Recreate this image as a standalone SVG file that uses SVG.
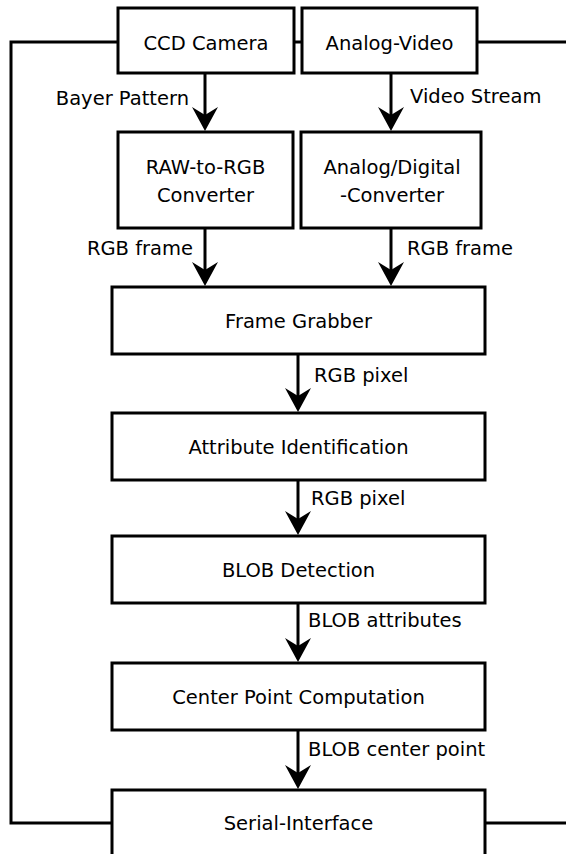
<svg xmlns="http://www.w3.org/2000/svg" width="566" height="854" viewBox="0 0 566 854">
<style>
.box{fill:#fff;stroke:#000;stroke-width:3}
.ln{fill:none;stroke:#000;stroke-width:3}
.ah{fill:#000;stroke:none}
text{font-family:"DejaVu Sans",Verdana,sans-serif;font-size:19.5px;fill:#000}
.c{text-anchor:middle}
.e{text-anchor:end}
</style>
<defs>
<path id="arr" d="M0,0 L-13,-24 L0,-16 L13,-24 Z"/>
</defs>
<rect width="566" height="854" fill="#fff"/>
<g id="connectors">
<polyline class="ln" points="118,42 11,42 11,823 112,823"/>
<line class="ln" x1="294" y1="42" x2="302" y2="42"/>
<line class="ln" x1="477" y1="42" x2="566" y2="42"/>
<line class="ln" x1="485" y1="823" x2="566" y2="823"/>
<line class="ln" x1="205" y1="73" x2="205" y2="120"/>
<use href="#arr" class="ah" x="205" y="131"/>
<line class="ln" x1="391" y1="73" x2="391" y2="120"/>
<use href="#arr" class="ah" x="391" y="131"/>
<line class="ln" x1="205" y1="228" x2="205" y2="275"/>
<use href="#arr" class="ah" x="205" y="286"/>
<line class="ln" x1="391" y1="228" x2="391" y2="275"/>
<use href="#arr" class="ah" x="391" y="286"/>
<line class="ln" x1="298" y1="354" x2="298" y2="401"/>
<use href="#arr" class="ah" x="298" y="412"/>
<line class="ln" x1="298" y1="480" x2="298" y2="524"/>
<use href="#arr" class="ah" x="298" y="535"/>
<line class="ln" x1="298" y1="603" x2="298" y2="651"/>
<use href="#arr" class="ah" x="298" y="662"/>
<line class="ln" x1="298" y1="730" x2="298" y2="778"/>
<use href="#arr" class="ah" x="298" y="789"/>
<text class="e" x="189" y="105">Bayer Pattern</text>
<text x="410" y="103">Video Stream</text>
<text class="e" x="193" y="255">RGB frame</text>
<text x="407" y="255">RGB frame</text>
<text x="314" y="382">RGB pixel</text>
<text x="311" y="505">RGB pixel</text>
<text x="308" y="627">BLOB attributes</text>
<text x="308" y="756">BLOB center point</text>
</g>
<g id="ccd"><rect class="box" x="118" y="8" width="176" height="65"/><text class="c" x="206" y="50">CCD Camera</text></g>
<g id="analog"><rect class="box" x="302" y="8" width="175" height="65"/><text class="c" x="389.5" y="50">Analog-Video</text></g>
<g id="raw"><rect class="box" x="118" y="132" width="175" height="96"/><text class="c" x="205.5" y="174">RAW-to-RGB</text><text class="c" x="205.5" y="202">Converter</text></g>
<g id="adc"><rect class="box" x="301" y="132" width="180" height="96"/><text class="c" x="392" y="174">Analog/Digital</text><text class="c" x="392" y="202">-Converter</text></g>
<g id="grabber"><rect class="box" x="112" y="287" width="373" height="67"/><text class="c" x="298.5" y="328">Frame Grabber</text></g>
<g id="attr"><rect class="box" x="112" y="413" width="373" height="67"/><text class="c" x="298.5" y="454">Attribute Identification</text></g>
<g id="blob"><rect class="box" x="112" y="536" width="373" height="67"/><text class="c" x="298.5" y="577">BLOB Detection</text></g>
<g id="center"><rect class="box" x="112" y="663" width="373" height="67"/><text class="c" x="298.5" y="704">Center Point Computation</text></g>
<g id="serial"><rect class="box" x="112" y="790" width="373" height="90"/><text class="c" x="298.5" y="830">Serial-Interface</text></g>
</svg>
